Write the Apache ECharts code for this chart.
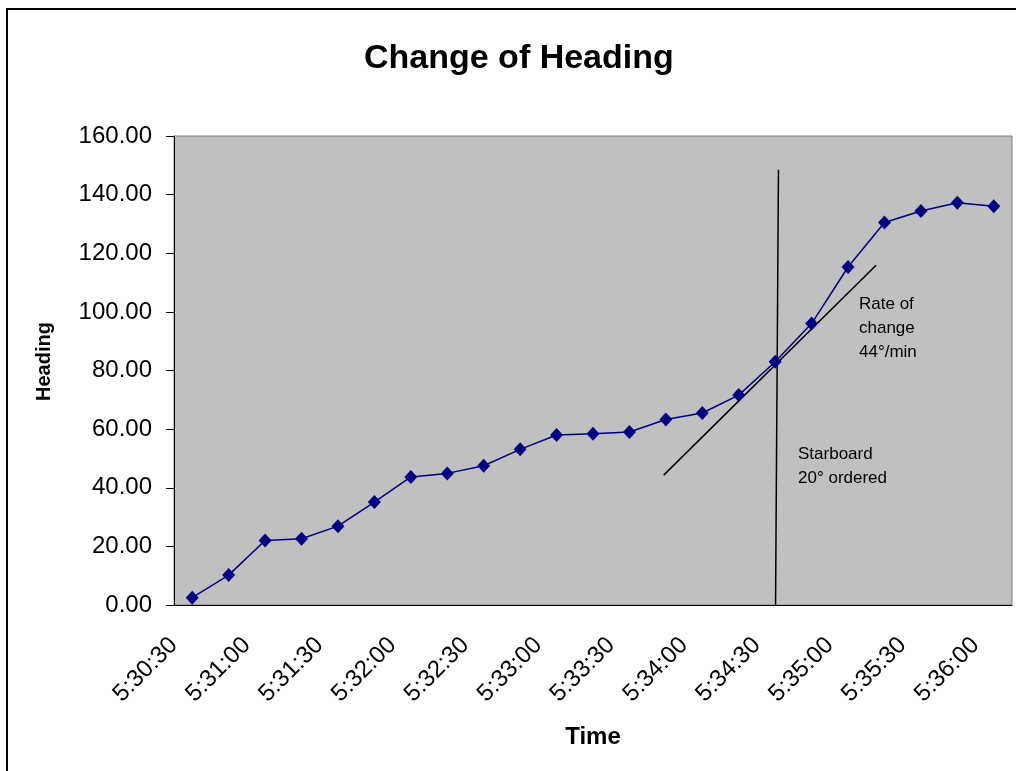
<!DOCTYPE html>
<html>
<head>
<meta charset="utf-8">
<title>Change of Heading</title>
<script src="https://cdn.jsdelivr.net/npm/echarts@6/dist/echarts.min.js"></script>
<style>
  html, body { margin: 0; padding: 0; background: #fff; }
  #chart { width: 1016px; height: 771px; }
</style>
</head>
<body>
<div id="chart"></div>
<script>
// sample times, one every 15 s
var times = [
  "5:30:30", "5:30:45", "5:31:00", "5:31:15", "5:31:30", "5:31:45",
  "5:32:00", "5:32:15", "5:32:30", "5:32:45", "5:33:00", "5:33:15",
  "5:33:30", "5:33:45", "5:34:00", "5:34:15", "5:34:30", "5:34:45",
  "5:35:00", "5:35:15", "5:35:30", "5:35:45", "5:36:00"
];
var heading = [
  2.5, 10.2, 22.0, 22.6, 26.9, 35.1, 43.7, 44.9, 47.5, 53.1, 58.0, 58.4,
  59.0, 63.3, 65.5, 71.6, 83.0, 96.0, 115.3, 130.5, 134.4, 137.2, 136.0
];
var yTicks = [0, 160, 20]; // min, max, step

// hand drawn helper lines, x in category index units
var orderLine = [[16.09, 148.5], [16.01, 0]];
var tangentLine = [[12.94, 44.3], [18.77, 115.9]];

var font = "'Liberation Sans', Arial, sans-serif";
var chart = echarts.init(document.getElementById("chart"));

var option = {
  backgroundColor: "#fff",
  animation: false,
  title: {
    text: "Change of Heading",
    left: 359,
    top: 37,
    textStyle: { fontFamily: font, fontSize: 34, fontWeight: "bold", color: "#000" }
  },
  grid: {
    left: 174,
    top: 136,
    right: 4,
    bottom: 166,
    show: true,
    backgroundColor: "#c0c0c0",
    borderColor: "#808080",
    borderWidth: 1
  },
  xAxis: [
    {
      type: "category",
      data: times,
      boundaryGap: true,
      name: "Time",
      nameLocation: "middle",
      nameGap: 120,
      nameTextStyle: { fontFamily: font, fontSize: 24, fontWeight: "bold", color: "#000" },
      axisLine: { lineStyle: { color: "#000", width: 1 } },
      axisTick: { interval: 0, length: 8, lineStyle: { color: "#000" } },
      axisLabel: {
        interval: 1,
        rotate: 45,
        margin: 18,
        padding: [0, 26, 0, 0],
        fontFamily: font,
        fontSize: 24,
        color: "#000"
      },
      splitLine: { show: false }
    },
    {
      type: "value",
      min: -0.5,
      max: times.length - 0.5,
      show: false
    }
  ],
  yAxis: {
    type: "value",
    min: yTicks[0],
    max: yTicks[1],
    interval: yTicks[2],
    name: "Heading",
    nameLocation: "middle",
    nameGap: 120,
    nameTextStyle: { fontFamily: font, fontSize: 20, fontWeight: "bold", color: "#000", padding: [0, 0, 0, 18] },
    axisLine: { show: true, onZero: false, lineStyle: { color: "#000", width: 1 } },
    axisTick: { show: true, length: 8, lineStyle: { color: "#000" } },
    axisLabel: {
      margin: 22,
      fontFamily: font,
      fontSize: 24,
      color: "#000",
      formatter: function (v) { return v.toFixed(2); }
    },
    splitLine: { show: false }
  },
  series: [
    {
      name: "Heading",
      type: "line",
      data: heading,
      symbol: "diamond",
      symbolSize: [13, 14],
      lineStyle: { color: "#000080", width: 1.5 },
      itemStyle: { color: "#000080" },
      z: 3
    },
    {
      type: "line",
      xAxisIndex: 1,
      data: orderLine,
      symbol: "none",
      lineStyle: { color: "#000", width: 1.5 },
      z: 2
    },
    {
      type: "line",
      xAxisIndex: 1,
      data: tangentLine,
      symbol: "none",
      lineStyle: { color: "#000", width: 1.5 },
      z: 2
    }
  ],
  graphic: [
    {
      type: "rect",
      shape: { x: 7, y: 9, width: 1100, height: 1000 },
      style: { fill: "none", stroke: "#000", lineWidth: 2 },
      silent: true
    },
    {
      type: "text",
      left: 859,
      top: 292,
      style: { text: "Rate of\nchange\n44°/min", font: "17px " + font, fill: "#000", lineHeight: 24 }
    },
    {
      type: "text",
      left: 798,
      top: 442,
      style: { text: "Starboard\n20° ordered", font: "17px " + font, fill: "#000", lineHeight: 24 }
    }
  ]
};

chart.setOption(option);
window.addEventListener("resize", function () { chart.resize(); });
</script>
</body>
</html>
